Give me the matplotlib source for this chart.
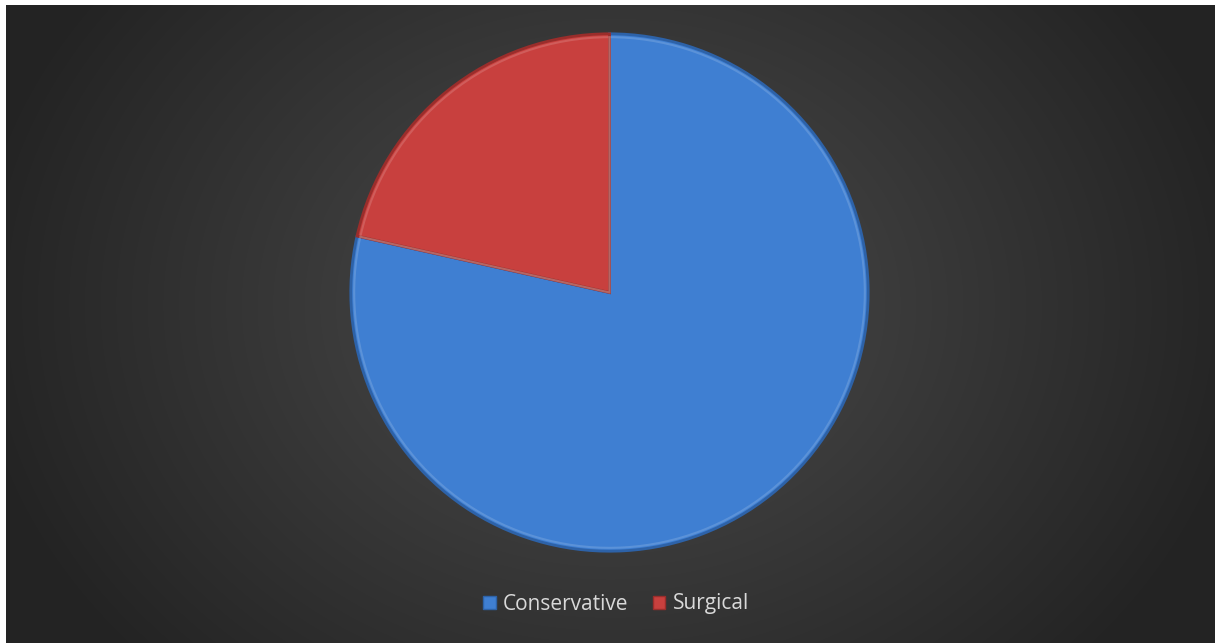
import matplotlib.pyplot as plt
import numpy as np

# treatment split
labels = ['Conservative', 'Surgical']
values = [78.5, 21.5]
colors = ['#3f7fd2', '#c8403e']
edge_colors = ['#2d62a8', '#9a2d2b']

W, H = 1215, 643
fig = plt.figure(figsize=(W / 100, H / 100), dpi=100)
fig.patch.set_facecolor('white')

# dark radial gradient behind the chart (white strip top/left)
bg = fig.add_axes([6 / W, 0, 1 - 6 / W, 1 - 5 / H])
yy, xx = np.mgrid[0:638, 0:1209]
d = np.sqrt(((xx - 604) / 640.0) ** 2 + ((yy - 300) / 520.0) ** 2)
shade = np.clip(0.30 - 0.16 * d, 0.14, 0.30)
bg.imshow(np.dstack([shade] * 3), aspect='auto', interpolation='bilinear')
bg.axis('off')

# pie axes: centre (609.5, 292.5), radius ~260 px
r = 260.0
cx, cy = 609.5, 292.5
ax = fig.add_axes([(cx - r) / W, (H - cy - r) / H, 2 * r / W, 2 * r / H])
wedges, _ = ax.pie(values, colors=colors, startangle=90, counterclock=False,
                   radius=0.995, wedgeprops=dict(linewidth=0))
# bevel look: darker rim and a faint lighter inner band
for w, ec in zip(wedges, edge_colors):
    w.set_edgecolor(ec)
    w.set_linewidth(2.0)
inner, _ = ax.pie(values, startangle=90, counterclock=False,
                  radius=0.982, wedgeprops=dict(linewidth=1.5, fill=False))
for w in inner:
    w.set_edgecolor((1, 1, 1, 0.15))
ax.set_xlim(-1.0, 1.0)
ax.set_ylim(-1.0, 1.0)
ax.set_aspect('equal')

# legend
handles = [plt.Rectangle((0, 0), 1, 1, facecolor=c, edgecolor=e, linewidth=1)
           for c, e in zip(colors, edge_colors)]
leg = fig.legend(handles, labels, loc='center', bbox_to_anchor=(0.507, 1 - 604 / H),
                 ncol=2, frameon=False, handlelength=0.6, handleheight=0.6,
                 handletextpad=0.35, columnspacing=1.17,
                 prop={'family': 'Open Sans', 'size': 15})
for t in leg.get_texts():
    t.set_color('#d9d9d9')

fig.savefig('out.png', dpi=100, facecolor=fig.get_facecolor())
